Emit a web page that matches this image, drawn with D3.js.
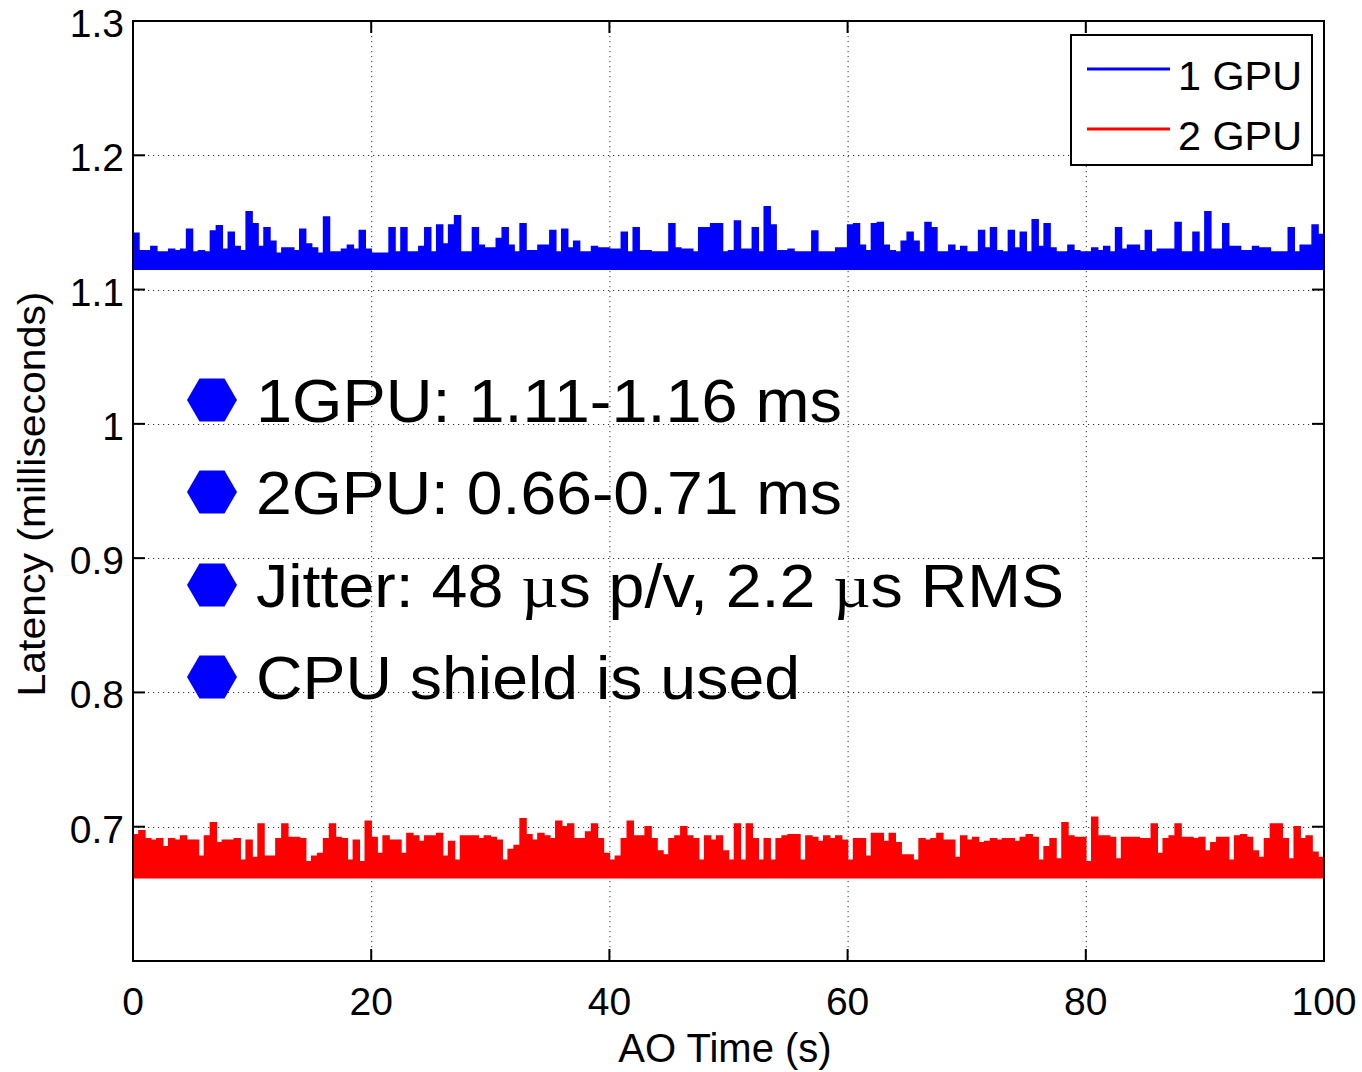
<!DOCTYPE html>
<html>
<head>
<meta charset="utf-8">
<script src="https://cdn.jsdelivr.net/npm/d3@7"></script>
<style>
  body { margin: 0; background: #fff; }
  text { font-family: "Liberation Sans", Arial, sans-serif; fill: #000; }
</style>
</head>
<body>
<div class="canvas"></div>
<script>
// Latency samples, one every 0.5 s (upper envelope)
const sampleStep = 0.5;

const gpu1Latency = [
  1.142, 1.129, 1.129, 1.132, 1.128, 1.128, 1.130, 1.129, 1.130, 1.145,
  1.128, 1.129, 1.128, 1.1436, 1.1476, 1.130, 1.1426, 1.132, 1.129, 1.158,
  1.149, 1.132, 1.146, 1.136, 1.127, 1.131, 1.131, 1.129, 1.145, 1.134,
  1.131, 1.127, 1.154, 1.128, 1.128, 1.130, 1.133, 1.130, 1.144, 1.130,
  1.127, 1.127, 1.127, 1.146, 1.128, 1.146, 1.128, 1.128, 1.132, 1.146,
  1.128, 1.148, 1.134, 1.148, 1.155, 1.128, 1.128, 1.146, 1.133, 1.131,
  1.131, 1.138, 1.146, 1.133, 1.128, 1.149, 1.129, 1.129, 1.133, 1.133,
  1.144, 1.128, 1.145, 1.131, 1.136, 1.128, 1.128, 1.132, 1.131, 1.131,
  1.130, 1.130, 1.1426, 1.128, 1.146, 1.129, 1.129, 1.128, 1.128, 1.128,
  1.149, 1.131, 1.130, 1.130, 1.128, 1.146, 1.146, 1.149, 1.149, 1.128,
  1.129, 1.151, 1.130, 1.130, 1.146, 1.128, 1.1617, 1.148, 1.129, 1.129,
  1.130, 1.128, 1.128, 1.128, 1.1436, 1.128, 1.128, 1.128, 1.131, 1.131,
  1.148, 1.149, 1.133, 1.129, 1.149, 1.150, 1.133, 1.129, 1.128, 1.136,
  1.1426, 1.136, 1.128, 1.150, 1.146, 1.128, 1.128, 1.133, 1.129, 1.132,
  1.128, 1.128, 1.144, 1.131, 1.146, 1.129, 1.128, 1.144, 1.131, 1.1426,
  1.128, 1.152, 1.132, 1.149, 1.131, 1.128, 1.128, 1.133, 1.129, 1.128,
  1.128, 1.131, 1.129, 1.132, 1.128, 1.146, 1.130, 1.133, 1.133, 1.129,
  1.144, 1.128, 1.130, 1.130, 1.130, 1.150, 1.128, 1.128, 1.1426, 1.128,
  1.158, 1.130, 1.130, 1.149, 1.132, 1.132, 1.129, 1.129, 1.132, 1.131,
  1.131, 1.128, 1.128, 1.128, 1.146, 1.128, 1.133, 1.133, 1.148, 1.141
];

const gpu2Latency = [
  0.694, 0.697, 0.691, 0.690, 0.691, 0.685, 0.691, 0.690, 0.693, 0.690,
  0.690, 0.678, 0.693, 0.703, 0.688, 0.690, 0.690, 0.691, 0.675, 0.690,
  0.677, 0.702, 0.678, 0.678, 0.691, 0.702, 0.692, 0.692, 0.691, 0.674,
  0.678, 0.680, 0.691, 0.702, 0.692, 0.691, 0.675, 0.690, 0.674, 0.704,
  0.692, 0.680, 0.693, 0.690, 0.690, 0.680, 0.695, 0.693, 0.689, 0.693,
  0.693, 0.695, 0.678, 0.689, 0.675, 0.693, 0.693, 0.693, 0.691, 0.693,
  0.692, 0.690, 0.675, 0.683, 0.686, 0.706, 0.694, 0.690, 0.695, 0.693,
  0.691, 0.704, 0.700, 0.702, 0.691, 0.691, 0.696, 0.702, 0.691, 0.680,
  0.675, 0.678, 0.691, 0.704, 0.693, 0.693, 0.700, 0.691, 0.682, 0.679,
  0.691, 0.693, 0.700, 0.693, 0.691, 0.675, 0.693, 0.690, 0.693, 0.682,
  0.675, 0.702, 0.675, 0.702, 0.691, 0.675, 0.691, 0.675, 0.691, 0.693,
  0.694, 0.694, 0.675, 0.693, 0.692, 0.689, 0.693, 0.691, 0.693, 0.690,
  0.675, 0.691, 0.691, 0.678, 0.695, 0.695, 0.689, 0.695, 0.688, 0.679,
  0.679, 0.675, 0.691, 0.690, 0.691, 0.695, 0.690, 0.690, 0.677, 0.693,
  0.690, 0.692, 0.688, 0.689, 0.691, 0.690, 0.691, 0.691, 0.689, 0.692,
  0.694, 0.692, 0.675, 0.685, 0.691, 0.676, 0.703, 0.693, 0.692, 0.692,
  0.674, 0.707, 0.693, 0.693, 0.692, 0.676, 0.692, 0.692, 0.692, 0.691,
  0.691, 0.702, 0.680, 0.691, 0.693, 0.702, 0.692, 0.692, 0.691, 0.692,
  0.682, 0.688, 0.692, 0.692, 0.675, 0.693, 0.694, 0.692, 0.682, 0.677,
  0.691, 0.702, 0.702, 0.691, 0.676, 0.700, 0.691, 0.693, 0.681, 0.677
];

// lower edge of each noise band
const bandFloor = [1.1145, 0.6615];

const seriesNames = ['1 GPU', '2 GPU'];
const seriesColors = ['#0000ff', '#ff0000'];

const xTicks = [0, 20, 40, 60, 80, 100];
const yTicks = [0.7, 0.8, 0.9, 1.0, 1.1, 1.2, 1.3];
const yTickLabels = ['0.7', '0.8', '0.9', '1', '1.1', '1.2', '1.3'];

const notes = [
  ['1GPU: 1.11-1.16 ms'],
  ['2GPU: 0.66-0.71 ms'],
  ['Jitter: 48 ', 'µ', 's p/v, 2.2 ', 'µ', 's RMS'],
  ['CPU shield is used']
];

// Dimensions
const dims = { width: 1362, height: 1072 };
const plot = { left: 133, right: 1324, top: 21, bottom: 961 };

const svg = d3.select('.canvas')
  .append('svg')
  .attr('width', dims.width)
  .attr('height', dims.height);

const x = d3.scaleLinear().domain([0, 100]).range([plot.left, plot.right]);
const y = d3.scaleLinear().domain([0.6, 1.3]).range([plot.bottom, plot.top]);

svg.append('clipPath').attr('id', 'plotClip')
  .append('rect')
  .attr('x', plot.left).attr('y', plot.top)
  .attr('width', plot.right - plot.left)
  .attr('height', plot.bottom - plot.top);

// Grid
const grid = svg.append('g')
  .attr('stroke', '#333')
  .attr('stroke-width', 1)
  .attr('stroke-dasharray', '1.2,3.8');

grid.selectAll('.vgrid')
  .data(xTicks.filter(d => d > 0 && d < 100))
  .enter().append('line')
    .attr('x1', d => x(d) + 0.5).attr('x2', d => x(d) + 0.5)
    .attr('y1', plot.top).attr('y2', plot.bottom);

grid.selectAll('.hgrid')
  .data(yTicks.filter(d => d < 1.3))
  .enter().append('line')
    .attr('y1', d => Math.round(y(d)) + 0.5).attr('y2', d => Math.round(y(d)) + 0.5)
    .attr('x1', plot.left).attr('x2', plot.right);

// Series
const toPoints = vals => {
  const pts = vals.map((v, i) => ({ t: i * sampleStep, v }));
  pts.push({ t: 100, v: vals[vals.length - 1] });
  return pts;
};

const lines = svg.append('g').attr('clip-path', 'url(#plotClip)');

[gpu1Latency, gpu2Latency].forEach((vals, k) => {
  const pts = toPoints(vals);
  const area = d3.area()
    .curve(d3.curveStepAfter)
    .x(d => x(d.t))
    .y0(y(bandFloor[k]))
    .y1(d => y(d.v));
  const topLine = d3.line()
    .curve(d3.curveStepAfter)
    .x(d => x(d.t))
    .y(d => y(d.v));

  lines.append('path')
    .attr('d', area(pts))
    .attr('fill', seriesColors[k]);
  lines.append('path')
    .attr('d', topLine(pts))
    .attr('fill', 'none')
    .attr('stroke', seriesColors[k])
    .attr('stroke-width', 1.5);
});

// Axes box and inward ticks
const tickLen = 12;
const axes = svg.append('g').attr('stroke', '#000').attr('stroke-width', 2);

axes.append('rect')
  .attr('x', plot.left).attr('y', plot.top)
  .attr('width', plot.right - plot.left)
  .attr('height', plot.bottom - plot.top)
  .attr('fill', 'none');

xTicks.forEach(t => {
  axes.append('line').attr('x1', x(t)).attr('x2', x(t))
    .attr('y1', plot.bottom).attr('y2', plot.bottom - tickLen);
  axes.append('line').attr('x1', x(t)).attr('x2', x(t))
    .attr('y1', plot.top).attr('y2', plot.top + tickLen);
});
yTicks.forEach(t => {
  axes.append('line').attr('y1', y(t)).attr('y2', y(t))
    .attr('x1', plot.left).attr('x2', plot.left + tickLen);
  axes.append('line').attr('y1', y(t)).attr('y2', y(t))
    .attr('x1', plot.right).attr('x2', plot.right - tickLen);
});

// Tick labels
svg.selectAll('.xlabel')
  .data(xTicks)
  .enter().append('text')
    .attr('x', d => x(d))
    .attr('y', 1015)
    .attr('text-anchor', 'middle')
    .attr('font-size', 39)
    .text(d => d);

svg.selectAll('.ylabel')
  .data(yTicks)
  .enter().append('text')
    .attr('x', 124)
    .attr('y', d => y(d) + 16)
    .attr('text-anchor', 'end')
    .attr('font-size', 39)
    .text((d, i) => yTickLabels[i]);

// Axis titles
svg.append('text')
  .attr('x', 725).attr('y', 1062)
  .attr('text-anchor', 'middle')
  .attr('font-size', 40)
  .text('AO Time (s)');

svg.append('text')
  .attr('transform', 'translate(45, 494) rotate(-90)')
  .attr('text-anchor', 'middle')
  .attr('font-size', 39)
  .attr('textLength', 405)
  .attr('lengthAdjust', 'spacingAndGlyphs')
  .text('Latency (milliseconds)');

// Bullet notes
const noteBaselines = [422, 514, 607, 699];
const noteWidths = [586, 586, 808, 544];
const hex = d3.line()([[-25, 0], [-12.5, -21.5], [12.5, -21.5], [25, 0], [12.5, 21.5], [-12.5, 21.5]]) + 'Z';

notes.forEach((parts, i) => {
  svg.append('path')
    .attr('d', hex)
    .attr('transform', `translate(212, ${noteBaselines[i] - 22})`)
    .attr('fill', '#0000ff');

  const txt = svg.append('text')
    .attr('x', 256)
    .attr('y', noteBaselines[i])
    .attr('font-size', 61)
    .attr('textLength', noteWidths[i])
    .attr('lengthAdjust', 'spacingAndGlyphs');
  parts.forEach(p => {
    const ts = txt.append('tspan').text(p);
    if (p === 'µ') ts.style('font-family', '"Liberation Serif", "Times New Roman", serif');
  });
});

// Legend
const legend = svg.append('g');
legend.append('rect')
  .attr('x', 1071).attr('y', 35)
  .attr('width', 241).attr('height', 130)
  .attr('fill', '#fff')
  .attr('stroke', '#000')
  .attr('stroke-width', 2);

seriesNames.forEach((name, i) => {
  const ly = 69 + i * 60;
  legend.append('line')
    .attr('x1', 1087).attr('x2', 1170)
    .attr('y1', ly).attr('y2', ly)
    .attr('stroke', seriesColors[i])
    .attr('stroke-width', 3);
  legend.append('text')
    .attr('x', 1178).attr('y', ly + 21)
    .attr('font-size', 40)
    .attr('textLength', 124)
    .attr('lengthAdjust', 'spacingAndGlyphs')
    .text(name);
});
</script>
</body>
</html>
